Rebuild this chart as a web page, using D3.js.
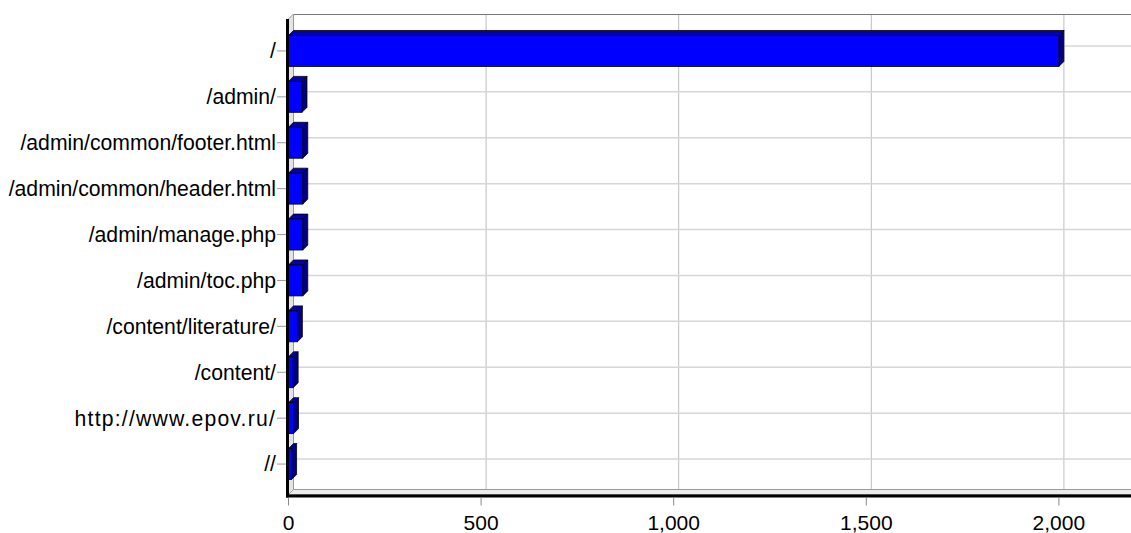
<!DOCTYPE html>
<html>
<head>
<meta charset="utf-8">
<script src="https://cdn.jsdelivr.net/npm/d3@7/dist/d3.min.js"></script>
<style>
  html, body { margin: 0; padding: 0; background: #fff; }
  svg { display: block; }
  text { font-family: "Liberation Sans", Arial, sans-serif; fill: #000; }
</style>
</head>
<body>
<svg id="chart" width="1131" height="533"></svg>
<script>
const categories = ["/", "/admin/", "/admin/common/footer.html", "/admin/common/header.html",
  "/admin/manage.php", "/admin/toc.php", "/content/literature/", "/content/",
  "http://www.epov.ru/", "//"];
const hits = [2000, 35, 37, 37, 37, 37, 23, 12, 13, 8];
const xTicks = [0, 500, 1000, 1500, 2000];

const W = 1131, H = 533;
const svg = d3.select("#chart");

// front plot frame
const frontLeft = 288.5, frontTop = 19, frontBottom = 494.5;
const depthX = 5, depthY = 5;
const rightEdge = W + 10;

const x = d3.scaleLinear().domain([0, 2200]).range([frontLeft, frontLeft + 2200 * 0.3852]);
const y = d3.scaleBand().domain(categories).range([28, 487]).paddingInner(0.326).paddingOuter(0.163);

// back wall
svg.append("rect").attr("x", frontLeft + depthX).attr("y", frontTop - depthY)
  .attr("width", rightEdge).attr("height", frontBottom - frontTop)
  .attr("fill", "#fff");

// vertical gridlines on back wall
svg.append("g").selectAll("line").data(xTicks).join("line")
  .attr("x1", d => x(d) + depthX).attr("x2", d => x(d) + depthX)
  .attr("y1", frontTop - depthY).attr("y2", frontBottom - depthY)
  .attr("stroke", "#bdbdbd").attr("stroke-width", 1);

// horizontal gridlines on back wall
svg.append("g").selectAll("line").data(categories).join("line")
  .attr("x1", frontLeft + depthX).attr("x2", rightEdge)
  .attr("y1", d => y(d) + y.bandwidth() / 2 - depthY)
  .attr("y2", d => y(d) + y.bandwidth() / 2 - depthY)
  .attr("stroke", "#d6d6d6").attr("stroke-width", 1.5);

// back wall top border
svg.append("line").attr("x1", frontLeft + depthX).attr("x2", rightEdge)
  .attr("y1", frontTop - depthY + 0.5).attr("y2", frontTop - depthY + 0.5)
  .attr("stroke", "#777").attr("stroke-width", 1);

// left wall
svg.append("path")
  .attr("d", `M${frontLeft},${frontTop} L${frontLeft + depthX},${frontTop - depthY} L${frontLeft + depthX},${frontBottom - depthY} L${frontLeft},${frontBottom} Z`)
  .attr("fill", "#e4e4e4").attr("stroke", "#999").attr("stroke-width", 1);

// bottom wall
svg.append("path")
  .attr("d", `M${frontLeft},${frontBottom} L${frontLeft + depthX},${frontBottom - depthY} L${rightEdge},${frontBottom - depthY} L${rightEdge},${frontBottom} Z`)
  .attr("fill", "#ececec").attr("stroke", "#999").attr("stroke-width", 1);

// 3D bars
const bars = svg.append("g").selectAll("g").data(categories.map((c, i) => ({ c, v: hits[i] }))).join("g");
bars.each(function (d) {
  const g = d3.select(this);
  const x0 = x(0), x1 = x(d.v);
  const t = y(d.c), b = y(d.c) + y.bandwidth();
  g.append("path")
    .attr("d", `M${x0},${t} L${x0 + depthX},${t - depthY} L${x1 + depthX},${t - depthY} L${x1},${t} Z`)
    .attr("fill", "#0000b4").attr("stroke", "#000").attr("stroke-width", 0.8);
  g.append("path")
    .attr("d", `M${x1},${t} L${x1 + depthX},${t - depthY} L${x1 + depthX},${b - depthY} L${x1},${b} Z`)
    .attr("fill", "#000080").attr("stroke", "#000").attr("stroke-width", 0.8);
  g.append("rect").attr("x", x0).attr("y", t).attr("width", x1 - x0).attr("height", b - t)
    .attr("fill", "#0000ff").attr("stroke", "#000").attr("stroke-width", 0.8);
});

// axis lines (thick black)
svg.append("line").attr("x1", 287.5).attr("x2", 287.5).attr("y1", frontTop).attr("y2", frontBottom + 3)
  .attr("stroke", "#000").attr("stroke-width", 3);
svg.append("line").attr("x1", 286).attr("x2", rightEdge).attr("y1", frontBottom + 1.5).attr("y2", frontBottom + 1.5)
  .attr("stroke", "#000").attr("stroke-width", 3);

// y ticks and labels
const yAx = svg.append("g");
yAx.selectAll("line").data(categories).join("line")
  .attr("x1", 277).attr("x2", 286)
  .attr("y1", d => y(d) + y.bandwidth() / 2).attr("y2", d => y(d) + y.bandwidth() / 2)
  .attr("stroke", "#999").attr("stroke-width", 1);
yAx.selectAll("text").data(categories).join("text")
  .attr("x", 276).attr("y", d => y(d) + y.bandwidth() / 2)
  .attr("dy", "0.35em").attr("text-anchor", "end")
  .style("font-size", "21.2px")
  .style("letter-spacing", d => d.startsWith("http") ? "1.2px" : null)
  .text(d => d);

// x ticks and labels
const fmt = d3.format(",");
const xAx = svg.append("g");
xAx.selectAll("line").data(xTicks).join("line")
  .attr("x1", d => x(d)).attr("x2", d => x(d))
  .attr("y1", frontBottom + 3).attr("y2", frontBottom + 11)
  .attr("stroke", "#888").attr("stroke-width", 1);
xAx.selectAll("text").data(xTicks).join("text")
  .attr("x", d => x(d)).attr("y", 529.5)
  .attr("text-anchor", "middle")
  .style("font-size", "21px")
  .text(d => fmt(d));
</script>
</body>
</html>
